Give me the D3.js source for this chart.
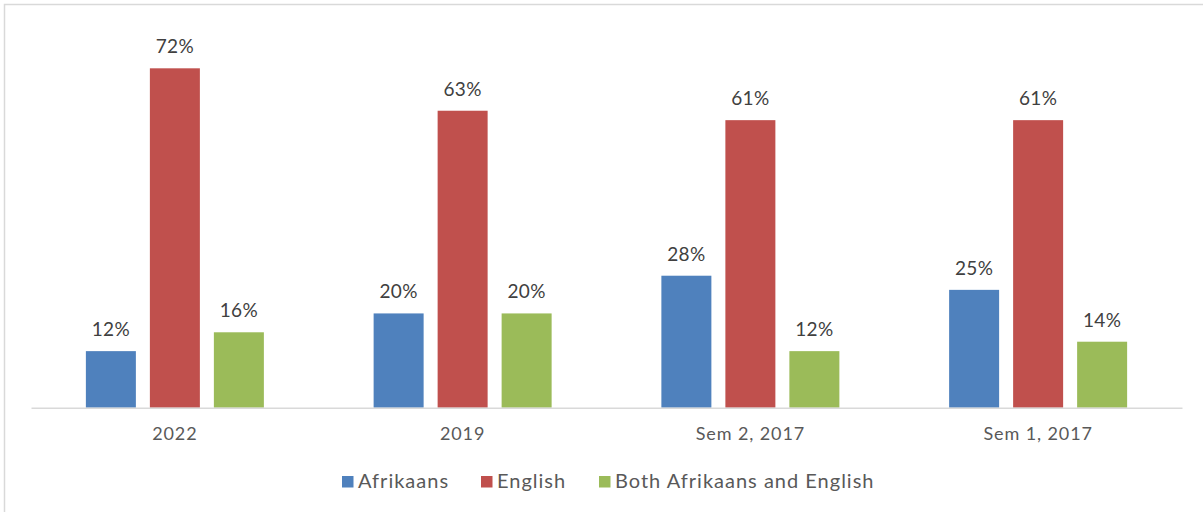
<!DOCTYPE html>
<html>
<head>
<meta charset="utf-8">
<script src="https://cdn.jsdelivr.net/npm/d3@7"></script>
<style>
  html, body { margin: 0; padding: 0; background: #fff; }
  svg text { font-family: Lato, "Open Sans", sans-serif; fill: #595959; }
</style>
</head>
<body>
<svg id="chart" width="1203" height="512"></svg>
<script>
// Language of instruction preference, by survey period
const categories = ["2022", "2019", "Sem 2, 2017", "Sem 1, 2017"];
const seriesNames = ["Afrikaans", "English", "Both Afrikaans and English"];
const afrikaans = [12, 20, 28, 25];
const english = [72, 63, 61, 61];
const both = [16, 20, 12, 14];
const seriesColors = ["#4F81BD", "#C0504D", "#9BBB59"];

const seriesValues = [afrikaans, english, both];
const rows = categories.map((c, i) => ({
  category: c,
  values: seriesNames.map((s, j) => ({ series: s, idx: j, value: seriesValues[j][i] }))
}));

const svg = d3.select("#chart");
const W = 1203, H = 512;

// outer frame
svg.append("rect")
  .attr("x", 4.5).attr("y", 4.5)
  .attr("width", W + 10).attr("height", H + 10)
  .attr("fill", "none").attr("stroke", "#d9d9d9").attr("stroke-width", 1.5);

const plot = { left: 31, right: 1182, top: 30.6, bottom: 407.7 };

const x0 = d3.scaleBand()
  .domain(categories)
  .range([plot.left, plot.right]);

const barW = 50, gap = 14;
const x1 = d3.scaleBand()
  .domain(seriesNames)
  .range([-(barW * 1.5 + gap), barW * 1.5 + gap])
  .paddingInner(gap / (barW + gap))
  .paddingOuter(0);

const y = d3.scaleLinear().domain([0, 80]).range([plot.bottom, plot.top]);

const groups = svg.append("g").selectAll("g")
  .data(rows).join("g")
  .attr("transform", d => `translate(${x0(d.category) + x0.bandwidth() / 2},0)`);

groups.selectAll("rect")
  .data(d => d.values).join("rect")
  .attr("x", d => x1(d.series))
  .attr("width", x1.bandwidth())
  .attr("y", d => y(d.value))
  .attr("height", d => y(0) - y(d.value))
  .attr("fill", d => seriesColors[d.idx]);

groups.selectAll("text.val")
  .data(d => d.values).join("text")
  .attr("class", "val")
  .attr("x", d => x1(d.series) + x1.bandwidth() / 2)
  .attr("y", d => y(d.value) - 15)
  .attr("text-anchor", "middle")
  .style("font-size", "19px")
  .style("letter-spacing", "0.4px")
  .style("fill", "#404040")
  .text(d => d.value + "%");

// category axis
const xAxis = svg.append("g")
  .attr("transform", `translate(0,${plot.bottom})`)
  .call(d3.axisBottom(x0).tickSize(0).tickPadding(20));
xAxis.select(".domain").attr("stroke", "#d9d9d9").attr("stroke-width", 1.5);
xAxis.selectAll("text")
  .style("font-size", "18px")
  .style("letter-spacing", "0.9px")
  .style("fill", "#595959")
  .style("font-family", "Lato, 'Open Sans', sans-serif");

// legend
const legendItems = [
  { name: seriesNames[0], x: 342 },
  { name: seriesNames[1], x: 481 },
  { name: seriesNames[2], x: 599 }
];
const legend = svg.append("g").selectAll("g")
  .data(legendItems).join("g")
  .attr("transform", d => `translate(${d.x},476)`);
legend.append("rect")
  .attr("width", 11.5).attr("height", 11.5)
  .attr("fill", (d, i) => seriesColors[i]);
legend.append("text")
  .attr("x", 16).attr("y", 11.5)
  .style("font-size", "20px")
  .style("letter-spacing", "1px")
  .text(d => d.name);
</script>
</body>
</html>
